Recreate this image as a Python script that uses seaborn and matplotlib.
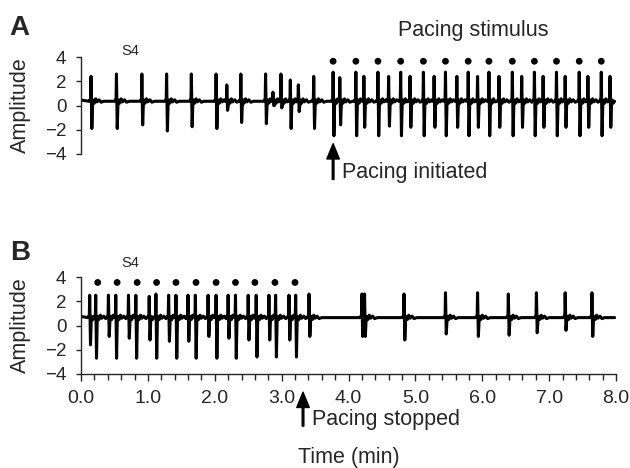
import numpy as np
import pandas as pd
import matplotlib
matplotlib.use("Agg")
import matplotlib.pyplot as plt
from matplotlib.ticker import MultipleLocator
import seaborn as sns

sns.set_style("ticks")
plt.rcParams["font.family"] = ["Liberation Sans", "DejaVu Sans"]

# --- panel A: spontaneous beats, then pacing ---
a_spike_t = [0.15, 0.53, 0.91, 1.28, 1.65, 2.02, 2.18, 2.39, 2.76, 2.87, 2.99, 3.13, 3.25, 3.48,
             3.77, 3.87, 4.11, 4.23, 4.44, 4.60, 4.78, 4.92, 5.12, 5.28, 5.45, 5.62, 5.79, 5.93,
             6.10, 6.25, 6.45, 6.59, 6.78, 6.91, 7.11, 7.24, 7.45, 7.58, 7.78, 7.91]
a_spike_up = [2.4, 2.6, 2.6, 2.6, 2.6, 2.6, 1.7, 2.6, 2.6, 1.1, 2.6, 2.1, 1.7, 2.4,
              2.75, 2.3, 2.75, 2.4, 2.75, 2.4, 2.75, 2.4, 2.75, 2.4, 2.75, 2.4, 2.75, 2.4,
              2.75, 2.4, 2.75, 2.4, 2.75, 2.4, 2.75, 2.4, 2.75, 2.4, 2.75, 2.4]
a_spike_down = [-1.9, -1.9, -1.6, -2.1, -1.75, -1.9, -0.4, -1.4, -1.5, 0.0, -0.2, -1.9, -0.5, -1.9,
                -2.5, -1.6, -2.5, -1.8, -2.5, -1.7, -2.5, -1.8, -2.5, -1.8, -2.5, -1.8, -2.5, -1.8,
                -2.5, -1.8, -2.5, -1.8, -2.5, -1.8, -2.5, -1.8, -2.5, -1.8, -2.5, -1.8]
a_baseline = 0.35
a_stim_t = [3.77, 4.11, 4.44, 4.78, 5.12, 5.45, 5.79, 6.10, 6.45, 6.78, 7.11, 7.45, 7.78]

# --- panel B: pacing, then pacing stopped ---
b_spike_t = [0.13, 0.22, 0.41, 0.52, 0.71, 0.82, 1.02, 1.12, 1.31, 1.42, 1.60, 1.71, 1.90, 2.02,
             2.20, 2.31, 2.50, 2.62, 2.81, 2.91, 3.11, 3.21, 3.41,
             4.20, 4.24, 4.83, 5.45, 5.93, 6.39, 6.81, 7.24, 7.64]
b_spike_up = [2.5, 2.5, 2.5, 2.5, 2.5, 2.5, 2.4, 2.6, 2.5, 2.5, 2.5, 2.5, 2.5, 2.5,
              2.5, 2.5, 2.5, 2.5, 2.5, 2.5, 2.5, 2.5, 2.6,
              2.6, 2.6, 2.6, 2.7, 2.7, 2.6, 2.7, 2.7, 2.7]
b_spike_down = [-1.6, -2.7, -0.9, -2.7, -1.05, -2.7, -1.2, -2.7, -1.3, -2.7, -1.3, -2.7, -0.9, -2.7,
                -1.05, -2.7, -1.2, -2.6, -1.2, -2.6, -1.2, -2.6, -0.9,
                -0.9, -0.9, -1.2, -0.7, -0.9, -0.8, -0.6, -0.4, -0.9]
b_baseline = 0.65
b_stim_t = [0.25, 0.54, 0.84, 1.13, 1.42, 1.72, 2.02, 2.31, 2.60, 2.90, 3.20]

T_END = 7.98

# shape of one beat around the spike time (minutes offset, amplitude offset from baseline)
BEAT_DT = [-0.03, -0.015, -0.006, 0.0, 0.012, 0.022, 0.035, 0.05, 0.07, 0.09, 0.12, 0.15, 0.19]
BEAT_DV = [0.0, 0.12, 0.0, None, None, -0.35, 0.1, -0.15, 0.2, -0.05, 0.12, -0.08, 0.0]


def build_trace(times, ups, downs, base):
    xs, ys = [0.0], [base + 0.1]
    for i, (t, u, d) in enumerate(zip(times, ups, downs)):
        nxt = times[i + 1] - 0.03 if i + 1 < len(times) else T_END
        prev = xs[-1]
        for k, (dt, dv) in enumerate(zip(BEAT_DT, BEAT_DV)):
            x = t + dt
            if x <= prev:
                continue
            if x >= nxt and dt > 0.012:
                break
            if k == 3:
                y = u
            elif k == 4:
                y = d
            else:
                y = base + dv
            xs.append(x)
            ys.append(y)
    xs.append(T_END)
    ys.append(base)
    return pd.DataFrame({"time": xs, "amp": ys})


trace_a = build_trace(a_spike_t, a_spike_up, a_spike_down, a_baseline)
trace_b = build_trace(b_spike_t, b_spike_up, b_spike_down, b_baseline)

fig = plt.figure(figsize=(6.3, 4.68), dpi=100)
ax_a = fig.add_axes([81 / 630, 1 - 154 / 468, 535 / 630, 97 / 468])
ax_b = fig.add_axes([81 / 630, 1 - 374 / 468, 535 / 630, 97 / 468])

for ax, trace, stim, dot_y in [(ax_a, trace_a, a_stim_t, 3.65), (ax_b, trace_b, b_stim_t, 3.55)]:
    sns.lineplot(data=trace, x="time", y="amp", ax=ax, sort=False, estimator=None,
                 color="black", linewidth=2.2)
    sns.scatterplot(x=stim, y=[dot_y] * len(stim), ax=ax, color="black", s=24,
                    edgecolor="none", clip_on=False)
    ax.set_xlim(0, 8)
    ax.set_ylim(-4, 4)
    ax.set_yticks([-4, -2, 0, 2, 4])
    ax.tick_params(axis="y", direction="out", length=3.5, width=1, pad=7, labelsize=13.5)
    ax.spines["right"].set_visible(False)
    ax.spines["top"].set_visible(False)
    ax.spines["left"].set_linewidth(1)
    ax.set_ylabel("Amplitude", fontsize=15.5)
    ax.yaxis.set_label_coords(-0.094, 0.5)
    ax.text(0.73, 4.5 if ax is ax_a else 5.15, "S4", fontsize=10.5, ha="center", va="center")

ax_a.spines["bottom"].set_visible(False)
ax_a.set_xticks([])
ax_a.set_xlabel("")

ax_b.xaxis.set_major_locator(MultipleLocator(1.0))
ax_b.xaxis.set_minor_locator(MultipleLocator(0.2))
ax_b.set_xticklabels([f"{v:.1f}" for v in ax_b.get_xticks()])
ax_b.tick_params(axis="x", which="major", direction="out", length=5, width=1, pad=6.5, labelsize=14)
ax_b.tick_params(axis="x", which="minor", direction="out", length=4, width=1)
ax_b.spines["bottom"].set_linewidth(1)
ax_b.set_xlabel("")

# annotations
ax_a.text(5.86, 6.2, "Pacing stimulus", fontsize=15.5, ha="center", va="center")
ax_a.annotate("", xy=(3.77, -3.15), xytext=(3.77, -6.1), annotation_clip=False,
              arrowprops=dict(facecolor="black", edgecolor="black", width=1.2,
                              headwidth=9, headlength=11, shrink=0))
ax_a.text(3.90, -6.0, "Pacing initiated", fontsize=15.5, ha="left", va="baseline")

ax_b.annotate("", xy=(3.32, -5.5), xytext=(3.32, -8.3), annotation_clip=False,
              arrowprops=dict(facecolor="black", edgecolor="black", width=1.2,
                              headwidth=9, headlength=11, shrink=0))
ax_b.text(3.45, -8.2, "Pacing stopped", fontsize=15.5, ha="left", va="baseline")

fig.text(348.5 / 630, 1 - 458 / 468, "Time (min)", fontsize=15.5, ha="center", va="center")
fig.text(9 / 630, 1 - 28 / 468, "A", fontsize=20, fontweight="bold", ha="left", va="center")
fig.text(10 / 630, 1 - 253 / 468, "B", fontsize=20, fontweight="bold", ha="left", va="center")

fig.savefig("out.png", dpi=100)
plt.close(fig)
